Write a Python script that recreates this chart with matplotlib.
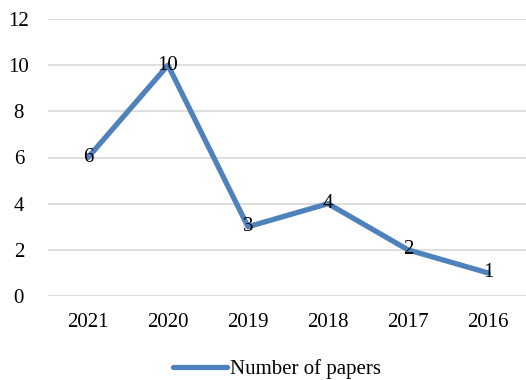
import matplotlib
matplotlib.use("Agg")
import matplotlib.pyplot as plt

years = ["2021", "2020", "2019", "2018", "2017", "2016"]
papers = [6, 10, 3, 4, 2, 1]
yticks = [0, 2, 4, 6, 8, 10, 12]
series_name = "Number of papers"

plt.rcParams['font.family'] = ['Liberation Serif', 'DejaVu Serif']

fig = plt.figure(figsize=(5.26, 3.8), dpi=100)
ax = fig.add_axes([48/526, 1-296/380, 480/526, (296-19)/380])
x = list(range(len(years)))
line, = ax.plot(x, papers, color="#4F81BD", lw=3.8, solid_capstyle="round",
                solid_joinstyle="round", label=series_name, zorder=3)
for xi, v in zip(x, papers):
    ax.text(xi, v, str(v), ha="center", va="center", fontsize=15, color="black", zorder=4)

ax.set_xlim(-0.5, len(years) - 0.5)
ax.set_ylim(0, 12)
ax.set_yticks(yticks)
ax.set_xticks(x)
ax.set_xticklabels(years)
ax.tick_params(axis="both", length=0, labelsize=15, colors="black")
ax.tick_params(axis="x", pad=12)
ax.tick_params(axis="y", pad=21)
for lbl in ax.get_yticklabels():
    lbl.set_horizontalalignment("center")
ax.yaxis.grid(True, color="#D9D9D9", lw=1.2)
ax.set_axisbelow(True)
for s in ax.spines.values():
    s.set_visible(False)
line.set_clip_on(False)

fig.legend(handles=[line], loc="center", bbox_to_anchor=(277/526, 1-369/380),
           frameon=False, fontsize=15, handlelength=2.55, handletextpad=0.15)
fig.savefig("out.png", dpi=100)
